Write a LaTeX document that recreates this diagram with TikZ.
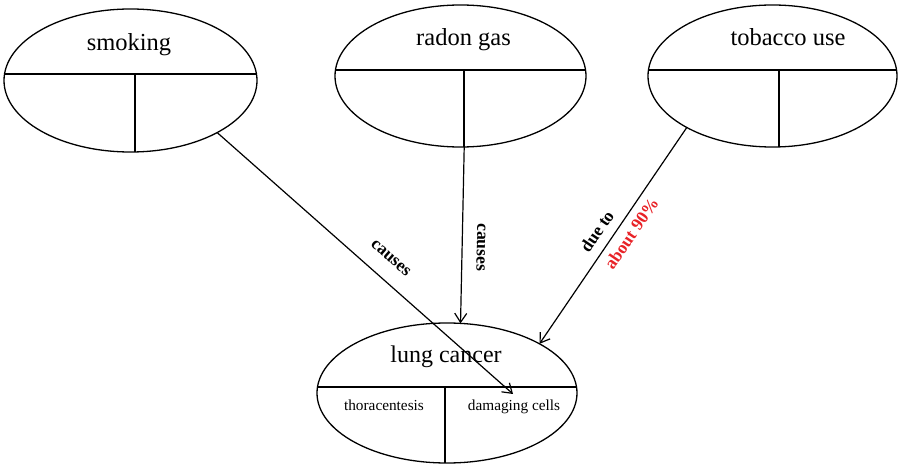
\documentclass[tikz,border=0pt]{standalone}
\usepackage{fontspec}
\setmainfont{Liberation Serif}
\usetikzlibrary{arrows.meta,shapes.geometric}
\definecolor{labelred}{RGB}{232,34,39}
\tikzset{
  oval/.style={draw, ellipse, inner sep=0pt, outer sep=0pt, line width=1.3pt},
  divider/.style={line width=1.3pt},
  title/.style={anchor=base, inner sep=0pt, font=\fontsize{24.5}{28}\selectfont},
  sub/.style={anchor=base, inner sep=0pt, font=\fontsize{15.3}{18}\selectfont},
  link/.style={line width=1.2pt, -{Straight Barb[length=9pt,width=12pt,line width=1.2pt]}},
  tag/.style={sloped, inner sep=0pt, font=\bfseries\fontsize{17.5}{20}\selectfont},
}
\begin{document}
\begin{tikzpicture}[x=1pt,y=-1pt]
\useasboundingbox (0,0) rectangle (898,465);

% concept ovals
\node[oval, minimum width=253pt, minimum height=143pt] (smoking) at (130.5,80.5) {};
\node[oval, minimum width=251pt, minimum height=142pt] (radon) at (460.5,76) {};
\node[oval, minimum width=249pt, minimum height=142pt] (tobacco) at (772.5,76) {};
\node[oval, minimum width=260pt, minimum height=140pt] (lung) at (447,393) {};

% inner dividers of each oval
\begin{scope}
  \clip (smoking.center) ellipse [x radius=126.5, y radius=71.5];
  \draw[divider] (0,74) -- (300,74) (135,74) -- (135,160);
\end{scope}
\begin{scope}
  \clip (radon.center) ellipse [x radius=125.5, y radius=71];
  \draw[divider] (320,70) -- (600,70) (464,70) -- (464,160);
\end{scope}
\begin{scope}
  \clip (tobacco.center) ellipse [x radius=124.5, y radius=71];
  \draw[divider] (630,70) -- (898,70) (779,70) -- (779,160);
\end{scope}
\begin{scope}
  \clip (lung.center) ellipse [x radius=130, y radius=70];
  \draw[divider] (300,387) -- (600,387) (445,387) -- (445,470);
\end{scope}

% titles and sub-entries
\node[title] (smokingT) at (129,51) {smoking};
\node[title] (radonT) at (463.5,46) {radon gas};
\node[title] (tobaccoT) at (788,45.7) {tobacco use};
\node[title, font=\fontsize{24}{28}\selectfont] (lungT) at (446,362.7) {lung cancer};
\node[sub] (thora) at (384,410) {thoracentesis};
\node[sub] (dmg) at (514,410) {damaging cells};
\coordinate (dmgtip) at (513,394);

% links
\draw[link] (smoking.-31.9) -- node[tag, pos=0.54, above=16pt] {causes} (dmgtip);
\draw[link] (radon.-87.2) -- node[tag, allow upside down, pos=0.566, above=14pt] {causes} (lung.79);
\draw[link] (tobacco.-149.8)
  -- node[tag, pos=0.522, above=9pt] {due to}
     node[tag, pos=0.454, below=7pt, text=labelred] {about 90\%}
  (lung.28.8);
\end{tikzpicture}
\end{document}
